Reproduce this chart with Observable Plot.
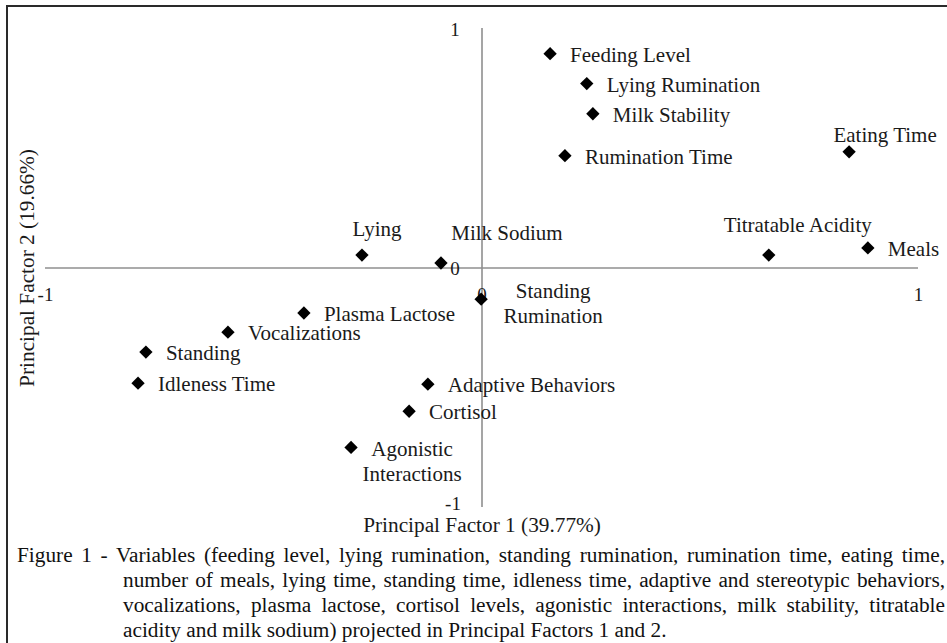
<!DOCTYPE html>
<html>
<head>
<meta charset="utf-8">
<script src="https://cdn.jsdelivr.net/npm/d3@7"></script>
<script src="https://cdn.jsdelivr.net/npm/@observablehq/plot@0.6"></script>
<style>
  html, body { margin: 0; padding: 0; background: #fff; overflow: hidden; }
  body { width: 947px; height: 643px; position: relative; font-family: "Liberation Serif", "Times New Roman", serif; }
  #frame { position: absolute; left: 6px; top: 5px; width: 1200px; height: 900px;
           border-top: 2px solid #2a2a2a; border-left: 2px solid #2a2a2a; box-sizing: border-box; pointer-events: none; }
  #chart { position: absolute; left: 0; top: 0; }
  #caption { position: absolute; left: 17px; top: 543px; width: 928px; font-size: 21.3px; line-height: 25px; color: #111; }
  #caption div { text-align: justify; text-align-last: justify; white-space: nowrap; }
  #caption div.ind { margin-left: 106px; }
  #caption div.last { text-align: left; text-align-last: left; }
</style>
</head>
<body>
<div id="frame"></div>
<div id="chart"></div>
<div id="caption"></div>
<script>
// ---- data ----
const variables = [
  "Feeding Level", "Lying Rumination", "Milk Stability", "Rumination Time", "Eating Time",
  "Titratable Acidity", "Meals", "Lying", "Milk Sodium", "Standing\nRumination",
  "Plasma Lactose", "Vocalizations", "Standing", "Idleness Time", "Adaptive Behaviors",
  "Cortisol", "Agonistic\nInteractions"
];
const factor1 = [0.156, 0.240, 0.254, 0.190, 0.841, 0.657, 0.884, -0.275, -0.094, -0.002,
                 -0.408, -0.582, -0.770, -0.788, -0.124, -0.167, -0.300];
const factor2 = [0.895, 0.770, 0.644, 0.469, 0.485, 0.054, 0.084, 0.054, 0.021, -0.130,
                 -0.188, -0.268, -0.351, -0.481, -0.485, -0.598, -0.749];
const axisTicks = [-1, 0, 1];
const xTitle = "Principal Factor 1 (39.77%)";
const yTitle = "Principal Factor 2 (19.66%)";
const captionLines = [
  "Figure 1 - Variables (feeding level, lying rumination, standing rumination, rumination time, eating time,",
  "number of meals, lying time, standing time, idleness time, adaptive and stereotypic behaviors,",
  "vocalizations, plasma lactose, cortisol levels, agonistic interactions, milk stability, titratable",
  "acidity and milk sodium) projected in Principal Factors 1 and 2."
];

// ---- label placement (style only) ----
const right = {dx: 20, dy: 0, anchor: "start"};
const labelStyle = {
  "Eating Time": {dx: 36, dy: -18, anchor: "middle"},
  "Titratable Acidity": {dx: 29, dy: -31, anchor: "middle"},
  "Lying": {dx: 15, dy: -27, anchor: "middle"},
  "Milk Sodium": {dx: 66, dy: -31, anchor: "middle"},
  "Standing\nRumination": {dx: 72, dy: 3, anchor: "middle"},
  "Agonistic\nInteractions": {dx: 61, dy: 13, anchor: "middle"}
};

const points = variables.map((name, i) => ({name, f1: factor1[i], f2: factor2[i]}));

const labelMarks = points.map(p => {
  const s = labelStyle[p.name] || right;
  return Plot.text([p], {
    x: "f1", y: "f2", text: "name",
    dx: s.dx, dy: s.dy, textAnchor: s.anchor, lineAnchor: "middle",
    lineHeight: 1.22, fontSize: 21, fill: "#1a1a1a"
  });
});

const fmt = d => d === 0 ? "0" : (d < 0 ? "-1" : "1");

const plot = Plot.plot({
  width: 947,
  height: 540,
  marginLeft: 45,
  marginRight: 29,
  marginTop: 28,
  marginBottom: 33,
  x: {domain: [-1, 1], axis: null},
  y: {domain: [-1, 1], axis: null},
  style: {fontFamily: "Liberation Serif, Times New Roman, serif", background: "transparent", color: "#1a1a1a"},
  marks: [
    Plot.ruleY([0], {x1: -1, x2: 1, stroke: "#8f8f8f", strokeWidth: 1.6}),
    Plot.ruleX([0], {y1: -1, y2: 1, stroke: "#8f8f8f", strokeWidth: 1.6}),
    Plot.text(axisTicks.filter(d => d >= 0), {x: 0, y: d => d, text: fmt, dx: -27, dy: 1, fontSize: 19, fill: "#1a1a1a"}),
    Plot.text(axisTicks.filter(d => d < 0), {x: 0, y: d => d, text: fmt, dx: -29, dy: -4, fontSize: 19, fill: "#1a1a1a"}),
    Plot.text(axisTicks, {x: d => d, y: 0, text: fmt, dy: 27, fontSize: 19, fill: "#1a1a1a"}),
    Plot.dot(points, {x: "f1", y: "f2", symbol: "diamond2", fill: "#000", r: 6}),
    ...labelMarks,
    Plot.text([xTitle], {frameAnchor: "bottom", dy: 18, textAnchor: "middle", lineAnchor: "middle", fontSize: 21.3, fill: "#1a1a1a"}),
    Plot.text([yTitle], {frameAnchor: "left", dx: -18, rotate: -90, textAnchor: "middle", lineAnchor: "middle", fontSize: 21.3, fill: "#1a1a1a"})
  ]
});
document.getElementById("chart").appendChild(plot);

const cap = document.getElementById("caption");
captionLines.forEach((line, i) => {
  const div = document.createElement("div");
  div.textContent = line;
  if (i > 0) div.classList.add("ind");
  if (i === captionLines.length - 1) div.classList.add("last");
  cap.appendChild(div);
});
</script>
</body>
</html>
